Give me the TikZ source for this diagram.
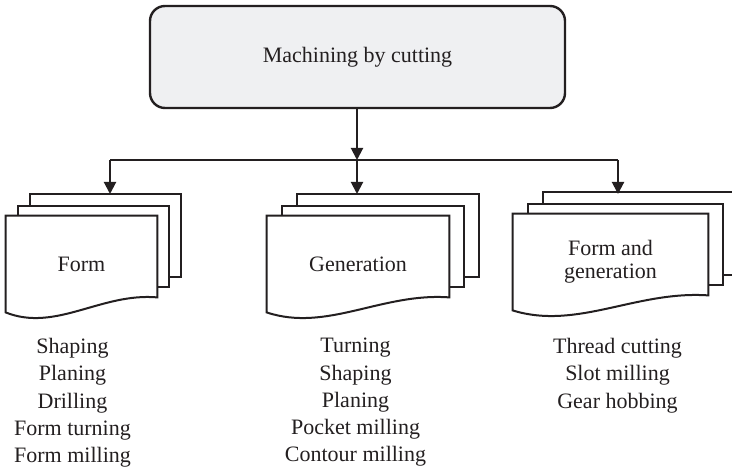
\documentclass[tikz,border=0pt]{standalone}
\usepackage{fontspec}
\setmainfont{Liberation Serif}
\usetikzlibrary{positioning,arrows.meta,calc,backgrounds}
\definecolor{inkdark}{HTML}{231F20}
\definecolor{boxgray}{HTML}{EFF0F2}

\begin{document}
\begin{tikzpicture}[
    x=0.5pt, y=-0.5pt,
    every node/.style={font=\fontsize{11}{13.6}\selectfont, text=inkdark},
    cutbox/.style={
        draw=inkdark, fill=boxgray, rounded corners=7.5pt,
        minimum width=207.5pt, minimum height=51pt,
        line width=1.2pt, align=center
    },
    docfront/.style={
        minimum width=#1, minimum height=48pt, inner sep=0pt, align=center
    },
    sheet/.style={draw=inkdark, fill=white, line width=1pt},
    proclist/.style={align=center, inner sep=0pt, anchor=north},
    conn/.style={draw=inkdark, line width=1pt},
    arr/.style={conn, -{Triangle[length=6pt, width=6pt]}},
]

\useasboundingbox (0,0) rectangle (732,470);
\clip (0,0) rectangle (732,470);

% === Top box ===
\node[cutbox] (cut) at (357.5,57) {Machining by cutting};

% === Document stacks ===
\node[docfront=75.5pt] (form) at (81.5,264) {Form};
\node[docfront=91pt] (gen) at (358,264) {Generation};
\node[docfront=97.5pt, font=\fontsize{11}{11.5}\selectfont] (fgen) at (610.5,262) {Form and\\generation};

% sheets behind the labels
\begin{scope}[on background layer]
\clip (0,0) rectangle (732,470);
\foreach \n/\dx in {form/12, gen/15, fgen/15} {
    \draw[sheet] ($(\n.north west)+(2*\dx,-22)$) rectangle ($(\n.south east)+(2*\dx,-35)$);
    \draw[sheet] ($(\n.north west)+(\dx,-10)$) rectangle ($(\n.south east)+(\dx,-25)$);
    \draw[sheet] (\n.north west) -- (\n.north east) -- ($(\n.south east)+(0,-15)$)
        .. controls ($(\n.south west)!0.63!(\n.south east)+(0,-20)$)
        and ($(\n.south west)!0.33!(\n.south east)+(0,20)$) .. (\n.south west) -- cycle;
}
\end{scope}

% === Connectors ===
\coordinate (bus) at (357,160);
\coordinate (formin) at (110,194);
\coordinate (genin) at (357,194);
\coordinate (fgenin) at (618,194);

\draw[arr] (cut.south -| bus) -- (bus);
\draw[conn] (formin |- bus) -- (fgenin |- bus);
\foreach \n in {formin, genin, fgenin}
    \draw[arr] (\n |- bus) -- (\n);

% === Process lists ===
\node[proclist] (formlist) at (72.5,338) {Shaping\\Planing\\Drilling\\Form turning\\Form milling};
\node[proclist] (genlist) at (355.5,338) {Turning\\Shaping\\Planing\\Pocket milling\\Contour milling};
\node[proclist] (fgenlist) at (617.5,338) {Thread cutting\\Slot milling\\Gear hobbing};

\end{tikzpicture}
\end{document}
